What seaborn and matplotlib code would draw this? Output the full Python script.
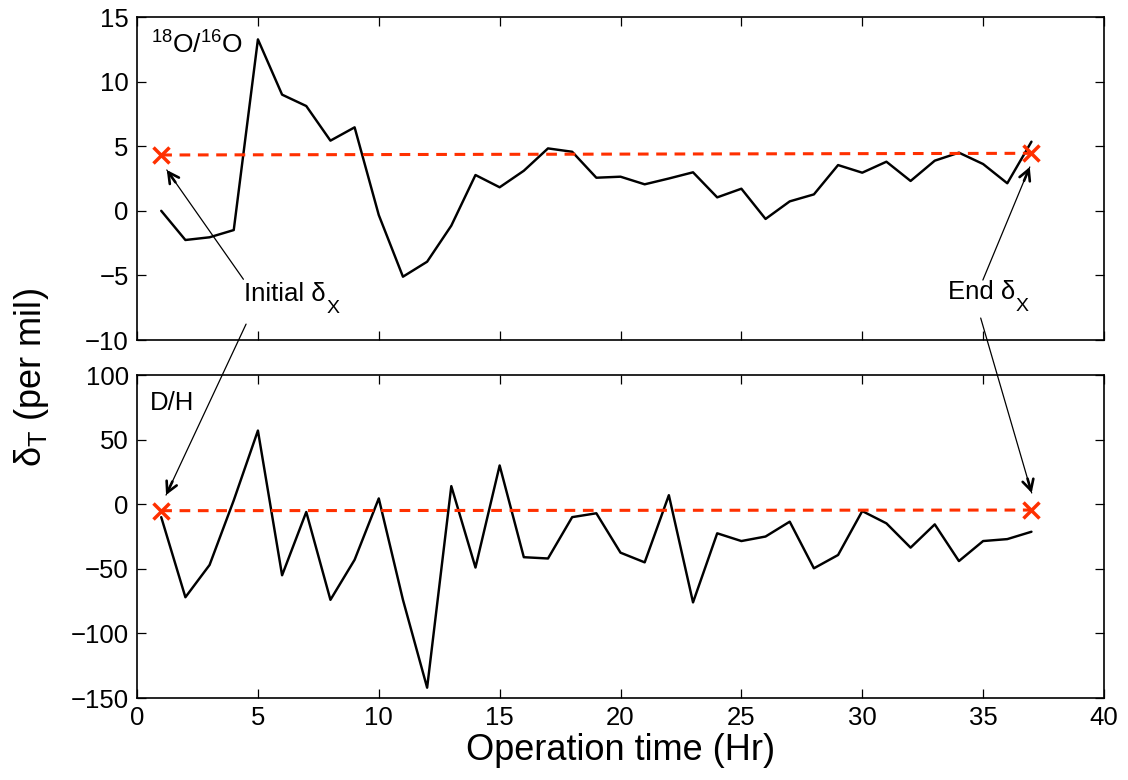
import numpy as np
import pandas as pd
import matplotlib
matplotlib.use("Agg")
import matplotlib.pyplot as plt
import seaborn as sns

# operation time (hr) for each sample
hours = list(range(1, 38))

# delta_T for 18O/16O (per mil)
o18 = [0.0, -2.26, -2.05, -1.49, 13.27, 8.99, 8.11, 5.43, 6.46, -0.33,
       -5.1, -3.94, -1.15, 2.77, 1.82, 3.1, 4.83, 4.57, 2.56, 2.64,
       2.05, 2.5, 2.98, 1.04, 1.71, -0.63, 0.73, 1.27, 3.54, 2.95,
       3.8, 2.31, 3.88, 4.5, 3.62, 2.13, 5.35]

# delta_T for D/H (per mil)
dh = [-10, -72, -47, 3, 57, -55, -6, -74, -43, 4.5,
      -74, -142, 14, -49, 30, -41, -42, -10, -7, -37.5,
      -45, 7, -76, -22.5, -28.5, -25, -13.5, -49.6, -39.3, -5.3,
      -14.8, -33.6, -15.6, -44, -28.5, -27, -21.3]

# initial / end delta_X
x_ends = [1, 37]
o18_x = [4.32, 4.45]
dh_x = [-5.0, -4.5]

df_o = pd.DataFrame({"hr": hours, "val": o18})
df_d = pd.DataFrame({"hr": hours, "val": dh})

sns.set_style("ticks")
plt.rcParams["font.family"] = ["Liberation Sans", "DejaVu Sans"]
plt.rcParams["mathtext.fontset"] = "custom"
plt.rcParams["mathtext.rm"] = "Liberation Sans"
plt.rcParams["mathtext.it"] = "Liberation Sans"
plt.rcParams["mathtext.sf"] = "Liberation Sans"
for k in ["text.color", "axes.labelcolor", "xtick.color", "ytick.color", "axes.edgecolor"]:
    plt.rcParams[k] = "black"

red = "#ff3000"

fig = plt.figure(figsize=(11.28, 7.8), dpi=100)
ax1 = fig.add_axes([0.1215, 0.5641, 0.8572, 0.4141])
ax2 = fig.add_axes([0.1215, 0.1051, 0.8572, 0.4141])

for ax, d, xv in [(ax1, df_o, o18_x), (ax2, df_d, dh_x)]:
    sns.lineplot(data=d, x="hr", y="val", ax=ax, color="black", linewidth=1.75)
    ax.plot(x_ends, xv, color=red, linestyle=(0, (3.5, 2.5)), linewidth=2.2,
            marker="x", markersize=11, markeredgewidth=2.5)
    ax.set_xlim(0, 40)
    ax.set_xticks(range(0, 41, 5))
    ax.tick_params(direction="in", top=True, right=True, length=6.5,
                   width=0.9, labelsize=18.5, pad=6)
    for s in ax.spines.values():
        s.set_linewidth(1.2)
        s.set_visible(True)
    ax.set_xlabel("")
    ax.set_ylabel("")

ax1.set_ylim(-10, 15)
ax1.set_yticks(range(-10, 16, 5))
ax1.tick_params(labelbottom=False)
ax2.set_ylim(-150, 100)
ax2.set_yticks(range(-150, 101, 50))

ax1.text(0.57, 12.2, r"$^{18}$O/$^{16}$O", fontsize=19, va="baseline")
ax2.text(0.54, 72.9, "D/H", fontsize=18.5, va="baseline")


def delta_label(ax, x, y, main, sub):
    t = ax.text(x, y, main, fontsize=18.5, va="baseline")
    ax.annotate(sub, xy=(1, 0), xycoords=t, xytext=(0.5, -5),
                textcoords="offset points", fontsize=14, va="baseline")


delta_label(ax1, 4.43, -7.0, "Initial δ", "X")
delta_label(ax1, 33.54, -6.8, "End δ", "X")

shaft = dict(arrowstyle="-", color="black", linewidth=0.9,
             shrinkA=0, shrinkB=0)
head = dict(arrowstyle="->,head_length=0.75,head_width=0.4", color="black",
            linewidth=1.9, shrinkA=0, shrinkB=0)


def arrow(ax, tip, start, tc=None):
    tc = tc if tc is not None else ax.transData
    ax.annotate("", xy=tip, xytext=start, textcoords=tc, arrowprops=shaft,
                annotation_clip=False)
    # short thick piece near the tip for the arrow head
    p_tip = ax.transData.transform(tip)
    p_st = tc.transform(start)
    v = (p_st - p_tip) / np.hypot(*(p_st - p_tip))
    near = ax.transData.inverted().transform(p_tip + v * 15)
    ax.annotate("", xy=tip, xytext=near, arrowprops=head,
                annotation_clip=False)


arrow(ax1, (1.23, 3.16), (4.40, -5.30))
arrow(ax1, (36.93, 3.39), (34.99, -5.36))
arrow(ax2, (1.2, 7.1), (4.51, -8.77), ax1.transData)
arrow(ax2, (37.01, 8.7), (34.9, -8.3), ax1.transData)

ax2.set_xlabel("Operation time (Hr)", fontsize=26, labelpad=2)
fig.text(0.028, 0.516, r"$\delta_{\mathrm{T}}$ (per mil)", fontsize=26,
         rotation=90, ha="center", va="center")

fig.savefig("out.png", dpi=100)
